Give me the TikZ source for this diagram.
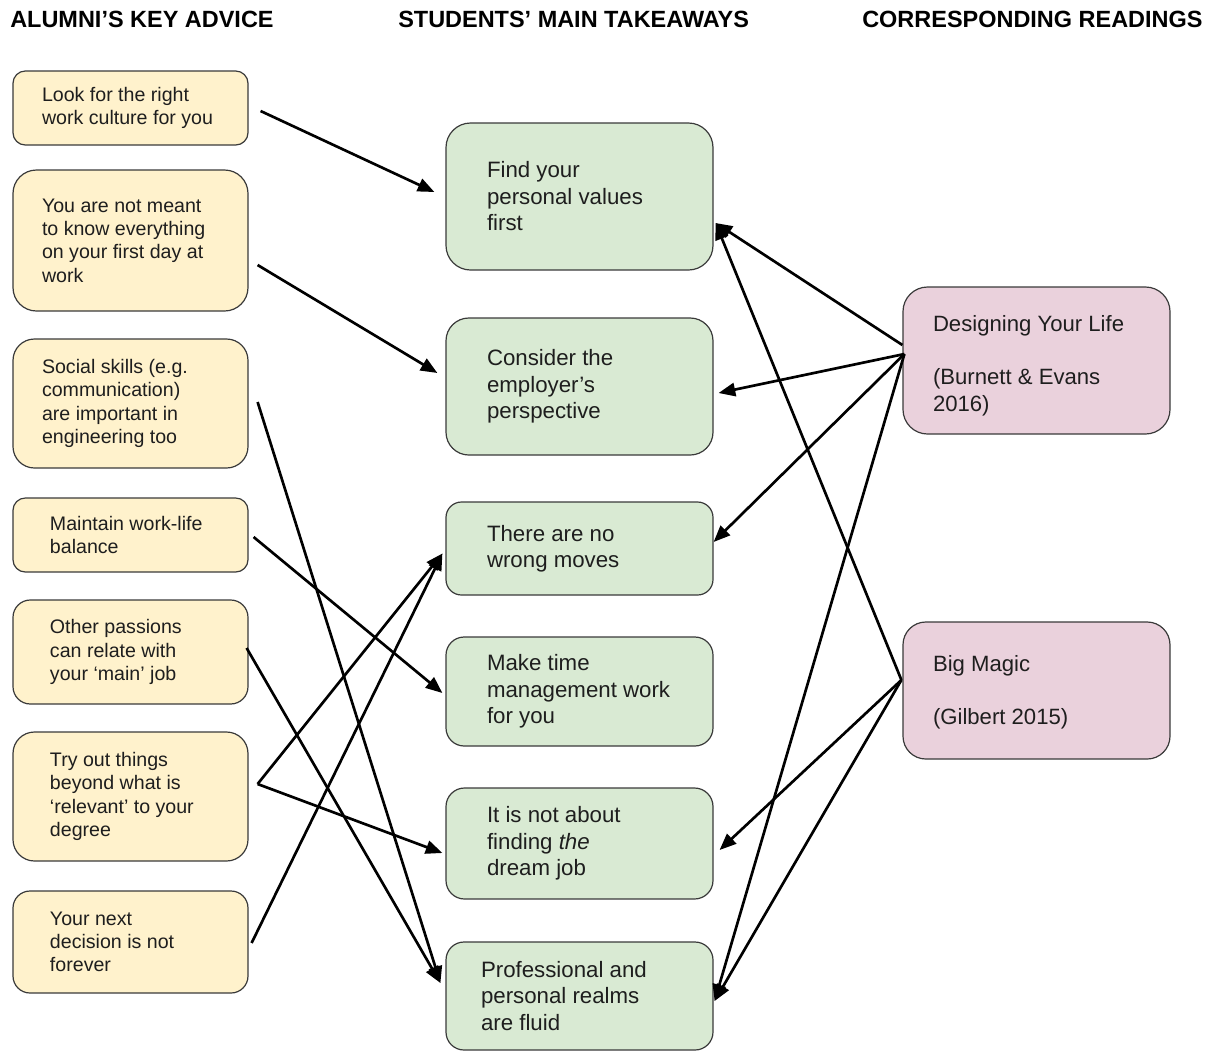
\documentclass[tikz,border=0pt]{standalone}
\usepackage{fontspec}
\setmainfont{Liberation Sans}
\usetikzlibrary{arrows.meta}
\newlength\pxu
\setlength\pxu{0.75pt}
\newcommand\inbox[3]{\hspace*{#1\pxu}\parbox{\dimexpr#2\pxu-#1\pxu\relax}{\raggedright #3}}
\definecolor{yel}{HTML}{FFF2CC}
\definecolor{grn}{HTML}{D9EAD3}
\definecolor{pnk}{HTML}{EAD1DC}
\definecolor{bordc}{HTML}{3A3A3A}
\definecolor{txtc}{HTML}{1E1E1E}
\begin{document}
\begin{tikzpicture}[x=0.75pt,y=-0.75pt,
  boxbase/.style={draw=bordc, line width=0.9pt, inner xsep=0pt, inner ysep=2pt, text=txtc},
  lbox/.style={boxbase, fill=yel, minimum width=176.25pt, font=\fontsize{14.7}{17.5}\selectfont},
  mbox/.style={boxbase, fill=grn, minimum width=200.25pt, font=\fontsize{16.7}{19.9}\selectfont},
  rbox/.style={boxbase, fill=pnk, minimum width=200.25pt, font=\fontsize{16.6}{19.9}\selectfont},
  hdr/.style={anchor=base west, inner sep=0pt, font=\fontsize{17.6}{20}\selectfont\bfseries},
  conn/.style={line width=2pt, -{Triangle[length=12.5pt,width=10pt]}}]
\useasboundingbox (0,0) rectangle (1215,1051);

% headers
\node[hdr] (h1) at (10,27) {ALUMNI’S KEY ADVICE};
\node[hdr] (h2) at (398,27) {STUDENTS’ MAIN TAKEAWAYS};
\node[hdr] (h3) at (862,27) {CORRESPONDING READINGS};

% left column
\node[lbox, minimum height=55.5pt, rounded corners=9.2pt] (a1) at (130.5,108)
  {\inbox{29}{235}{Look for the right\\work culture for you}};
\node[lbox, minimum height=105.75pt, rounded corners=17.6pt] (a2) at (130.5,240.5)
  {\inbox{29}{235}{You are not meant\\to know everything\\on your first day at\\work}};
\node[lbox, minimum height=96.75pt, rounded corners=16.1pt] (a3) at (130.5,403.5)
  {\inbox{29}{235}{Social skills (e.g.\\communication)\\are important in\\engineering too}};
\node[lbox, minimum height=55.5pt, rounded corners=9.2pt] (a4) at (130.5,535)
  {\inbox{37}{235}{Maintain work-life\\balance}};
\node[lbox, minimum height=78pt, rounded corners=13pt] (a5) at (130.5,652)
  {\inbox{37}{235}{Other passions\\can relate with\\your ‘main’ job}};
\node[lbox, minimum height=96.75pt, rounded corners=16.1pt] (a6) at (130.5,796.5)
  {\inbox{37}{235}{Try out things\\beyond what is\\‘relevant’ to your\\degree}};
\node[lbox, minimum height=76.5pt, rounded corners=12.75pt] (a7) at (130.5,942)
  {\inbox{37}{235}{Your next\\decision is not\\forever}};

% middle column
\node[mbox, minimum height=110.25pt, rounded corners=18.4pt] (m1) at (579.5,196.5)
  {\inbox{41}{267}{Find your\\personal values\\first}};
\node[mbox, minimum height=102.75pt, rounded corners=17.1pt] (m2) at (579.5,386.5)
  {\inbox{41}{267}{Consider the\\employer’s\\perspective}};
\node[mbox, minimum height=69.75pt, rounded corners=11.6pt] (m3) at (579.5,548.5)
  {\inbox{41}{267}{There are no\\wrong moves}};
\node[mbox, minimum height=81.75pt, rounded corners=13.6pt] (m4) at (579.5,691.5)
  {\inbox{41}{267}{Make time\\management work\\for you}};
\node[mbox, minimum height=83.25pt, rounded corners=13.9pt] (m5) at (579.5,843.5)
  {\inbox{41}{267}{It is not about\\finding \textit{the}\\dream job}};
\node[mbox, minimum height=81pt, rounded corners=13.5pt] (m6) at (579.5,996)
  {\inbox{35}{267}{Professional and\\personal realms\\are fluid}};

% right column
\node[rbox, minimum height=110.25pt, rounded corners=18.4pt] (r1) at (1036.5,360.5)
  {\inbox{30}{267}{\vspace*{10\pxu}Designing Your Life\\[\baselineskip](Burnett \& Evans\\2016)}};
\node[rbox, minimum height=102.75pt, rounded corners=17.1pt] (r2) at (1036.5,690.5)
  {\inbox{30}{267}{\vspace*{3\pxu}Big Magic\\[\baselineskip](Gilbert 2015)}};

% connectors: alumni -> takeaways
\draw[conn] ([shift={(12,3)}]a1.east) -- ([shift={(-11,-4.5)}]m1.west);
\draw[conn] ([shift={(9,24.5)}]a2.east) -- ([shift={(-8,-13.5)}]m2.west);
\draw[conn] ([shift={(9,-1.5)}]a3.east) -- ([shift={(-5,-13)}]m6.west);
\draw[conn] ([shift={(5,2)}]a4.east) -- ([shift={(-3,1.5)}]m4.west);
\draw[conn] ([shift={(-2,-4)}]a5.east) -- ([shift={(-5,-13)}]m6.west);
\draw[conn] ([shift={(9,-12.5)}]a6.east) -- ([shift={(-3,5)}]m3.west);
\draw[conn] ([shift={(9,-12.5)}]a6.east) -- ([shift={(-3,9.5)}]m5.west);
\draw[conn] ([shift={(3,1)}]a7.east) -- ([shift={(-3,5)}]m3.west);

% connectors: readings -> takeaways
\draw[conn] ([shift={(0,-15.5)}]r1.west) -- ([shift={(2,26.5)}]m1.east);
\draw[conn] ([shift={(2,-6.5)}]r1.west) -- ([shift={(5,6.5)}]m2.east);
\draw[conn] ([shift={(2,-6.5)}]r1.west) -- ([shift={(0,-6.5)}]m3.east);
\draw[conn] ([shift={(2,-6.5)}]r1.west) -- ([shift={(1,5)}]m6.east);
\draw[conn] ([shift={(-1,-10.5)}]r2.west) -- ([shift={(2,26.5)}]m1.east);
\draw[conn] ([shift={(-1,-10.5)}]r2.west) -- ([shift={(6,6.5)}]m5.east);
\draw[conn] ([shift={(-1,-10.5)}]r2.west) -- ([shift={(1,5)}]m6.east);
\end{tikzpicture}
\end{document}
